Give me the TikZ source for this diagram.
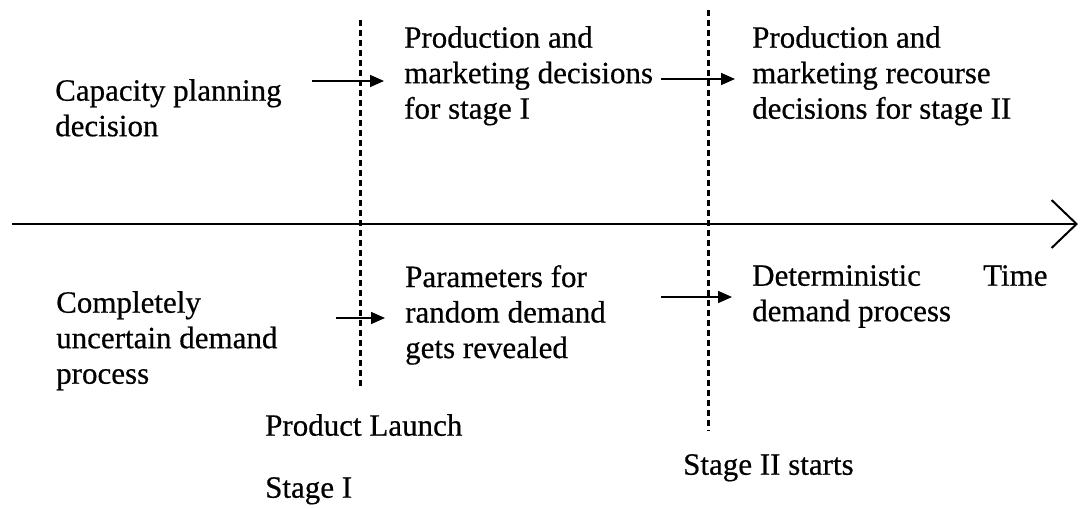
\documentclass[tikz,border=0pt]{standalone}
\usepackage{fontspec}
\setmainfont{Liberation Serif}
\newfontfamily\scanfont{Liberation Serif}[FakeBold=0.5]
\usetikzlibrary{arrows.meta}
\begin{document}
\begin{tikzpicture}[x=1pt,y=-1pt,
  lbl/.style={anchor=north west,inner sep=0pt,align=left,font=\scanfont\fontsize{31}{35.5}\selectfont},
  arr/.style={line width=1.6pt,-{Triangle[length=14pt,width=12pt]}},
  stagesep/.style={line width=3pt,dash pattern=on 6pt off 4pt},
  timeaxis/.style={line width=2.2pt,-{Straight Barb[length=25pt,width=48pt,line width=2pt]}}]
\useasboundingbox (0,0) rectangle (1080,509);
% stage separators and time axis
\coordinate (d1t) at (360,20);
\coordinate (d1b) at (360,386);
\coordinate (d2t) at (708,10);
\coordinate (d2b) at (708,431);
\coordinate (ax0) at (12,224);
\coordinate (ax1) at (1078,224);
\draw[stagesep] (d1t) -- (d1b);
\draw[stagesep] (d2t) -- (d2b);
\draw[timeaxis] (ax0) -- (ax1);
% texts
\node[lbl] (cap) at (55,79) {Capacity planning\\decision};
\node[lbl] (pm1) at (404,26) {Production and\\marketing decisions\\for stage I};
\node[lbl] (pm2) at (752,26) {Production and\\marketing recourse\\decisions for stage II};
\node[lbl] (unc) at (56,291) {Completely\\uncertain demand\\process};
\node[lbl] (par) at (405,265) {Parameters for\\random demand\\gets revealed};
\node[lbl] (det) at (752,265) {Deterministic\\demand process};
\node[lbl] (time) at (983,265) {Time};
\node[lbl] (launch) at (265,414) {Product Launch};
\node[lbl] (st1) at (265,477) {Stage I};
\node[lbl] (st2) at (683,454) {Stage II starts};
% arrow levels
\coordinate (ya) at (0,81);
\coordinate (yb) at (0,79);
\coordinate (yc) at (0,318);
\coordinate (yd) at (0,297);
\draw[arr] ([xshift=30pt]cap.east |- ya) -- ([xshift=-20pt]pm1.west |- ya);
\draw[arr] ([xshift=8pt]pm1.east |- yb) -- ([xshift=-17pt]pm2.west |- yb);
\draw[arr] ([xshift=58pt]unc.east |- yc) -- ([xshift=-20pt]par.west |- yc);
\draw[arr] ([xshift=-91pt]det.west |- yd) -- ([xshift=-20pt]det.west |- yd);
\end{tikzpicture}
\end{document}
